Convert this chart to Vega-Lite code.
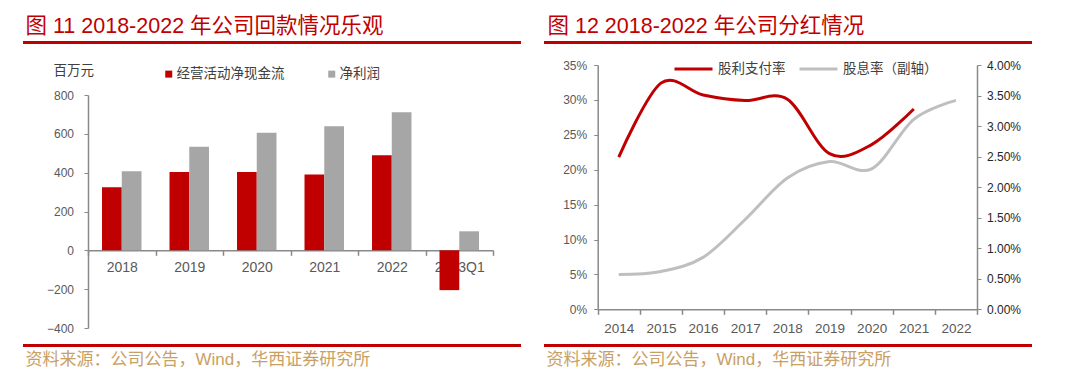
{
  "$schema": "https://vega.github.io/schema/vega-lite/v6.json",
  "padding": {"left": 23, "top": 15, "right": 10, "bottom": 5},
  "background": "white",
  "config": {
    "view": {"stroke": null},
    "font": "Liberation Sans, Noto Sans CJK SC",
    "axis": {"grid": false, "labelFont": "Liberation Sans", "titleFont": "Noto Sans CJK SC"}
  },
  "spacing": 23,
  "resolve": {"scale": {"color": "independent"}, "legend": {"color": "independent"}},
  "hconcat": [
    {
      "spacing": 0,
      "vconcat": [
        {
          "width": 498, "height": 3,
          "data": {"values": [{}]},
          "mark": {"type": "text", "text": "", "fontSize": 1, "opacity": 0},
          "encoding": {},
          "view": {"fill": "#C00000", "stroke": null},
          "title": {"text": "图 11 2018-2022 年公司回款情况乐观", "orient": "top", "anchor": "start", "frame": "group", "baseline": "bottom", "offset": -18, "dx": 2.5, "fontSize": 21.5, "fontWeight": "normal", "color": "#C00000", "font": "Liberation Sans, Noto Sans CJK SC"}
        },
        {
          "width": 498, "height": 300,
          "data": {"values": [
            {"year": "2018", "series": "经营活动净现金流", "value": 325},
            {"year": "2018", "series": "净利润", "value": 407},
            {"year": "2019", "series": "经营活动净现金流", "value": 404},
            {"year": "2019", "series": "净利润", "value": 534},
            {"year": "2020", "series": "经营活动净现金流", "value": 404},
            {"year": "2020", "series": "净利润", "value": 606},
            {"year": "2021", "series": "经营活动净现金流", "value": 390},
            {"year": "2021", "series": "净利润", "value": 639},
            {"year": "2022", "series": "经营活动净现金流", "value": 490},
            {"year": "2022", "series": "净利润", "value": 711},
            {"year": "2023Q1", "series": "经营活动净现金流", "value": -205},
            {"year": "2023Q1", "series": "净利润", "value": 98}
          ]},
          "mark": {"type": "bar"},
          "encoding": {
            "x": {"field": "year", "type": "nominal", "sort": null,
              "scale": {"range": [65, 470], "paddingInner": 0, "paddingOuter": 0},
              "axis": {"orient": "bottom", "offset": -93.7, "title": null, "labelAngle": 0, "tickBand": "extent", "domainColor": "#898989", "tickColor": "#898989", "domainWidth": 1.5, "tickWidth": 1.5, "tickSize": 5, "labelPadding": 5, "labelFontSize": 14, "labelColor": "#595959"}},
            "xOffset": {"field": "series", "type": "nominal", "sort": ["经营活动净现金流", "净利润"], "scale": {"paddingInner": 0, "paddingOuter": 0.71}},
            "y": {"field": "value", "type": "quantitative",
              "scale": {"domain": [-400, 800], "range": [284, 51], "nice": false},
              "axis": {"orient": "left", "offset": -65, "values": [-400, -200, 0, 200, 400, 600, 800], "tickSize": 4, "labelPadding": 10.5, "labelFontSize": 12, "labelColor": "#595959", "domainColor": "#898989", "tickColor": "#898989", "domainWidth": 1.5,
                "title": "百万元", "titleAngle": 0, "titleX": -35, "titleY": 26.3, "titleAlign": "left", "titleBaseline": "middle", "titleFontSize": 13.5, "titleFontWeight": "normal", "titleColor": "#404040"}},
            "color": {"field": "series", "type": "nominal",
              "scale": {"domain": ["经营活动净现金流", "净利润"], "range": ["#C00000", "#A6A6A6"]},
              "legend": {"orient": "none", "legendX": 139, "legendY": 26, "direction": "horizontal", "title": null, "symbolType": "square", "symbolSize": 49, "symbolStrokeWidth": 0, "labelFont": "Noto Sans CJK SC", "labelFontSize": 13.5, "labelColor": "#404040", "labelOffset": 1, "columnPadding": 40}}
          }
        },
        {
          "width": 498, "height": 3,
          "data": {"values": [{}]},
          "mark": {"type": "text", "text": "", "fontSize": 1, "opacity": 0},
          "encoding": {},
          "view": {"fill": "#C00000", "stroke": null},
          "title": {"text": "资料来源：公司公告，Wind，华西证券研究所", "orient": "bottom", "anchor": "start", "frame": "group", "baseline": "top", "offset": 5, "dx": 2.5, "fontSize": 17, "fontWeight": "normal", "color": "#C9A063", "font": "Liberation Sans, Noto Sans CJK SC"}
        }
      ]
    },
    {
      "spacing": 0,
      "vconcat": [
        {
          "width": 488, "height": 3,
          "data": {"values": [{}]},
          "mark": {"type": "text", "text": "", "fontSize": 1, "opacity": 0},
          "encoding": {},
          "view": {"fill": "#C00000", "stroke": null},
          "title": {"text": "图 12 2018-2022 年公司分红情况", "orient": "top", "anchor": "start", "frame": "group", "baseline": "bottom", "offset": -18, "dx": 3.5, "fontSize": 21.5, "fontWeight": "normal", "color": "#C00000", "font": "Liberation Sans, Noto Sans CJK SC"}
        },
        {
          "width": 488, "height": 300,
          "data": {"values": [
            {"year": "2014", "payout": 21.8, "yield": 0.57},
            {"year": "2015", "payout": 32.4, "yield": 0.62},
            {"year": "2016", "payout": 30.7, "yield": 0.85},
            {"year": "2017", "payout": 29.9, "yield": 1.47},
            {"year": "2018", "payout": 30.1, "yield": 2.15},
            {"year": "2019", "payout": 22.3, "yield": 2.42},
            {"year": "2020", "payout": 23.6, "yield": 2.30},
            {"year": "2021", "payout": 28.7, "yield": 3.11},
            {"year": "2022", "payout": null, "yield": 3.42}
          ]},
          "layer": [
            {
              "mark": {"type": "line", "interpolate": "cardinal", "tension": 0, "strokeWidth": 3},
              "encoding": {
                "x": {"field": "year", "type": "nominal", "sort": null,
                  "scale": {"range": [53.7, 433], "paddingInner": 0, "paddingOuter": 0},
                  "axis": {"orient": "bottom", "offset": -34.7, "title": null, "labelAngle": 0, "tickBand": "extent", "domainColor": "#898989", "tickColor": "#898989", "domainWidth": 1.5, "tickWidth": 1.5, "tickSize": 5, "labelPadding": 7, "labelFontSize": 13.5, "labelColor": "#595959"}},
                "y": {"field": "yield", "type": "quantitative",
                  "scale": {"domain": [0, 4], "range": [265.3, 21], "nice": false},
                  "axis": {"orient": "right", "offset": -55, "values": [0, 0.5, 1, 1.5, 2, 2.5, 3, 3.5, 4], "labelExpr": "format(datum.value, '.2f') + '%'", "tickSize": 4, "labelPadding": 5.5, "labelFontSize": 12, "labelColor": "#262626", "domainColor": "#898989", "tickColor": "#898989", "domainWidth": 1.5, "title": null}},
                "color": {"datum": "股息率（副轴）", "type": "nominal",
                  "scale": {"domain": ["股利支付率", "股息率（副轴）"], "range": ["#C00000", "#BFBFBF"]},
                  "legend": {"orient": "none", "legendX": 129, "legendY": 7.5, "direction": "horizontal", "title": null, "symbolType": "stroke", "symbolSize": 1444, "symbolStrokeWidth": 3, "labelFont": "Noto Sans CJK SC", "labelFontSize": 13.5, "labelColor": "#404040", "labelOffset": 4, "columnPadding": 7}}
              }
            },
            {
              "mark": {"type": "line", "interpolate": "cardinal", "tension": 0, "strokeWidth": 3},
              "encoding": {
                "x": {"field": "year", "type": "nominal", "sort": null},
                "y": {"field": "payout", "type": "quantitative",
                  "scale": {"domain": [0, 35], "range": [265.3, 21], "nice": false},
                  "axis": {"orient": "left", "offset": -53.7, "values": [0, 5, 10, 15, 20, 25, 30, 35], "labelExpr": "datum.value + '%'", "tickSize": 4, "labelPadding": 7, "labelFontSize": 12, "labelColor": "#595959", "domainColor": "#898989", "tickColor": "#898989", "domainWidth": 1.5, "title": null}},
                "color": {"datum": "股利支付率", "type": "nominal"}
              }
            }
          ],
          "resolve": {"scale": {"y": "independent"}, "axis": {"y": "independent"}}
        },
        {
          "width": 488, "height": 3,
          "data": {"values": [{}]},
          "mark": {"type": "text", "text": "", "fontSize": 1, "opacity": 0},
          "encoding": {},
          "view": {"fill": "#C00000", "stroke": null},
          "title": {"text": "资料来源：公司公告，Wind，华西证券研究所", "orient": "bottom", "anchor": "start", "frame": "group", "baseline": "top", "offset": 5, "dx": 2.5, "fontSize": 17, "fontWeight": "normal", "color": "#C9A063", "font": "Liberation Sans, Noto Sans CJK SC"}
        }
      ]
    }
  ]
}
